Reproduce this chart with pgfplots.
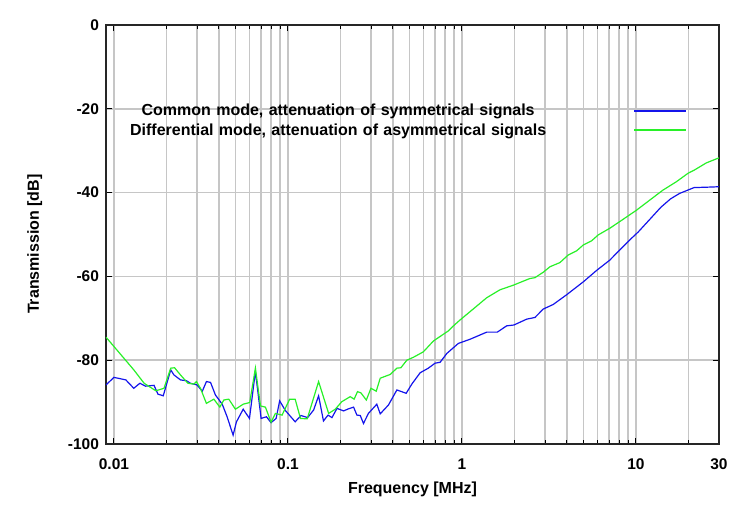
\documentclass[border=0pt]{standalone}
\usepackage{pgfplots}
\pgfplotsset{compat=1.18}
\usepackage{fontspec}
\setmainfont{Liberation Sans}
\definecolor{cmblue}{RGB}{20,20,235}
\definecolor{dmgreen}{RGB}{40,240,40}
\definecolor{gridgray}{RGB}{198,198,198}
\begin{document}
\begin{tikzpicture}
\begin{semilogxaxis}[
  scale only axis,
  width=613pt, height=419pt,
  xmin=0.009, xmax=30,
  ymin=-100, ymax=0,
  xtick={0.01,0.1,1,10,30},
  xticklabels={0.01,0.1,1,10,30},
  minor xtick={0.02,0.03,0.04,0.05,0.06,0.07,0.08,0.09,0.2,0.3,0.4,0.5,0.6,0.7,0.8,0.9,2,3,4,5,6,7,8,9,20},
  ytick={-100,-80,-60,-40,-20,0},
  yticklabels={-100,-80,-60,-40,-20,0},
  /pgf/number format/assume math mode=true,
  grid=both,
  major grid style={gridgray, line width=1.6pt},
  minor grid style={gridgray, line width=1.6pt},
  axis line style={black!85, line width=1.3pt},
  major tick style={black, line width=1pt},
  minor tick style={black, line width=0.8pt},
  major tick length=6pt,
  minor tick length=4pt,
  tick label style={font=\fontsize{15.5}{18}\selectfont\bfseries},
  xticklabel style={yshift=-11pt},
  yticklabel style={xshift=-3.5pt},
  xlabel={Frequency [MHz]},
  ylabel={Transmission [dB]},
  label style={font=\fontsize{16}{19}\selectfont\bfseries},
  xlabel style={at={(axis description cs:0.5,-0.1193)}, anchor=base},
  ylabel style={at={(axis description cs:-0.1093,0.477)}, anchor=base, rotate=0},
  legend plot pos=right,
  legend image code/.code={\draw[#1] (0pt,0pt) -- (52pt,0pt);},
  legend style={draw=none, fill=none, inner sep=0pt,
    font=\fontsize{16}{19}\selectfont\bfseries,
    at={(axis description cs:0.0195,0.811)}, anchor=north west,
    row sep=6pt,
    nodes={inner sep=0pt},
    /tikz/every odd column/.append style={column sep=75.7pt, text width=440pt, align=center}},
]
\addplot[cmblue, line width=1.2pt] coordinates {
(0.009,-85.9) (0.0100,-84.1) (0.0117,-84.7) (0.0130,-86.7) (0.0141,-85.5) (0.0152,-86.2) (0.0170,-86.0) (0.0179,-88.1) (0.0192,-88.5) (0.0212,-82.3) (0.0221,-83.5) (0.0241,-84.7) (0.0261,-84.9) (0.0275,-85.5) (0.0300,-85.9) (0.0322,-87.4) (0.0340,-85.1) (0.0359,-85.3) (0.0383,-88.3) (0.0419,-90.5) (0.0447,-93.5) (0.0484,-97.9) (0.0506,-94.7) (0.0553,-91.7) (0.0601,-93.9) (0.0650,-82.7) (0.0701,-93.9) (0.0752,-93.5) (0.0800,-94.9) (0.0855,-93.9) (0.0896,-89.7) (0.0966,-92.0) (0.110,-94.7) (0.1189,-93.2) (0.1297,-93.7) (0.1404,-91.9) (0.150,-88.5) (0.160,-94.5) (0.170,-93.1) (0.179,-93.7) (0.1914,-91.5) (0.2088,-92.1) (0.223,-91.6) (0.2383,-91.2) (0.249,-93.1) (0.2603,-93.2) (0.2717,-95.1) (0.290,-92.7) (0.324,-90.5) (0.339,-92.8) (0.378,-90.7) (0.4227,-87.1) (0.478,-87.9) (0.515,-85.7) (0.575,-83.0) (0.641,-81.9) (0.701,-80.7) (0.749,-80.5) (0.818,-78.4) (0.855,-77.7) (0.953,-76.0) (1.113,-75.0) (1.387,-73.3) (1.596,-73.3) (1.807,-71.8) (1.99,-71.6) (2.355,-70.2) (2.627,-69.8) (2.93,-67.8) (3.345,-66.7) (3.99,-64.4) (4.98,-61.3) (5.93,-58.6) (7.08,-56.1) (7.89,-54.1) (9.21,-51.3) (10.3,-49.4) (12.0,-46.4) (13.9,-43.5) (15.8,-41.5) (17.8,-40.2) (21.6,-38.8) (25.9,-38.7) (30,-38.6)
};
\addlegendentry{Common mode, attenuation of symmetrical signals}
\addplot[dmgreen, line width=1.2pt] coordinates {
(0.009,-74.5) (0.0130,-82.3) (0.0149,-85.5) (0.0174,-87.3) (0.0194,-86.7) (0.0212,-81.9) (0.0223,-81.8) (0.0241,-83.5) (0.0266,-85.5) (0.0288,-85.7) (0.0298,-85.1) (0.0314,-86.7) (0.0340,-90.3) (0.0375,-89.3) (0.0406,-91.2) (0.0428,-89.5) (0.0457,-89.3) (0.0499,-91.7) (0.0553,-90.5) (0.0603,-90.1) (0.0650,-81.9) (0.0695,-90.9) (0.0742,-91.2) (0.0800,-94.8) (0.0847,-92.7) (0.0925,-93.1) (0.1023,-89.3) (0.110,-89.3) (0.118,-93.9) (0.129,-94.0) (0.150,-85.1) (0.1713,-92.7) (0.187,-91.7) (0.204,-89.9) (0.228,-88.7) (0.240,-89.3) (0.251,-87.5) (0.2626,-87.8) (0.282,-89.5) (0.300,-86.7) (0.3216,-87.4) (0.339,-84.3) (0.387,-83.4) (0.4227,-81.9) (0.4457,-81.8) (0.482,-80.0) (0.526,-79.3) (0.600,-78.0) (0.686,-75.4) (0.836,-73.0) (0.894,-71.8) (0.975,-70.4) (1.387,-65.1) (1.654,-63.2) (1.972,-62.1) (2.459,-60.5) (2.627,-60.3) (2.933,-59.0) (3.203,-57.7) (3.656,-56.7) (4.077,-54.9) (4.56,-53.9) (4.98,-52.5) (5.56,-51.5) (6.07,-50.1) (7.08,-48.5) (8.08,-46.9) (10.07,-44.2) (12.53,-41.2) (14.3,-39.4) (17.08,-37.4) (19.9,-35.4) (21.7,-34.6) (25.4,-32.9) (30,-31.7)
};
\addlegendentry{Differential mode, attenuation of asymmetrical signals}
\end{semilogxaxis}
\path (current axis.south west) ++(-106pt,-73pt) rectangle ++(745pt,517pt);
\end{tikzpicture}
\end{document}
